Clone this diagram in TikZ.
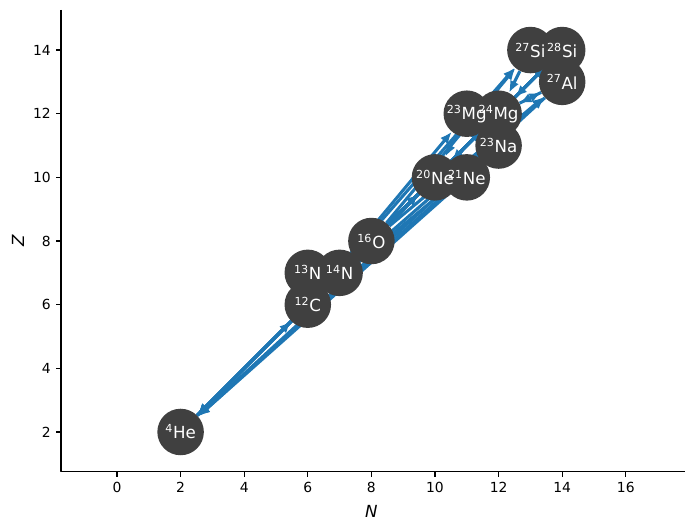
\documentclass[tikz,border=0pt]{standalone}
\usepackage{fontspec}
\setmainfont{DejaVu Sans}
\usetikzlibrary{arrows.meta,backgrounds}
\definecolor{rateblue}{HTML}{1F77B4}
\definecolor{nucgray}{HTML}{404040}
\tikzset{
  nuc/.style={circle,fill=nucgray,minimum size=33.5pt,inner sep=0pt},
  nuclbl/.style={text=white,inner sep=0pt,font=\fontsize{12}{14}\selectfont},
  rate/.style={draw=rateblue,line width=2.2pt,-{Latex[length=8.5pt,width=7pt]}},
  ticklbl/.style={inner sep=0pt,font=\fontsize{10}{12}\selectfont},
  axlbl/.style={inner sep=0pt,font=\fontsize{12}{14}\selectfont\itshape},
}
\begin{document}
\begin{tikzpicture}[x=22.9pt,y=22.92pt,line join=round]
  \useasboundingbox (-3.679,-1.046) rectangle (18.019,15.573);
  % axes
  \draw[line width=0.8pt] (-1.76,15.26) -- (-1.76,0.745) -- (17.85,0.745);
  \foreach \n in {0,2,...,16} {
      \draw[line width=0.8pt] (\n,0.745) -- ++(0,-3.5pt)
        node[ticklbl,below=3.5pt] (xt\n) {\n};
    }
  \foreach \z in {2,4,...,14} {
      \draw[line width=0.8pt] (-1.76,\z) -- ++(-3.5pt,0)
        node[ticklbl,left=3.5pt] (yt\z) {\z};
    }
  \node[axlbl] (xlabel) at (8,-0.48) {N};
  \node[axlbl,rotate=90] (ylabel) at (-3.11,8) {Z};

  % nuclei
  \foreach \name/\n/\z in {he4/2/2, c12/6/6, n13/6/7, n14/7/7, o16/8/8,
      ne20/10/10, ne21/11/10, na23/12/11, mg23/11/12, mg24/12/12,
      al27/14/13, si27/13/14, si28/14/14} {
      \node[nuc] (\name) at (\n,\z) {};
    }
  \foreach \name/\a/\el in {he4/4/He, c12/12/C, n13/13/N, n14/14/N, o16/16/O,
      ne20/20/Ne, ne21/21/Ne, na23/23/Na, mg23/23/Mg, mg24/24/Mg,
      al27/27/Al, si27/27/Si, si28/28/Si} {
      \node[nuclbl] (\name-lbl) at (\name) {\textsuperscript{\a}\el};
    }

  % rates
  \begin{pgfonlayer}{background}
    \foreach \a/\b in {he4/c12, c12/he4, he4/o16, c12/o16, o16/he4, o16/c12,
        he4/ne20, o16/ne20, ne20/he4, ne20/o16, he4/mg24, ne20/mg24,
        mg24/he4, mg24/ne20, he4/si28, mg24/si28, si28/he4, si28/mg24,
        c12/ne20, c12/na23, c12/mg23, c12/mg24, o16/mg24, c12/al27,
        o16/al27, c12/si27, o16/si27, c12/si28, o16/si28,
        na23/ne20, na23/he4, na23/mg24, mg24/na23, ne20/na23,
        al27/mg24, al27/he4, al27/si28, si28/al27, mg24/al27,
        mg23/na23, mg23/ne20, si27/al27, si27/mg24,
        c12/n13, n13/n14, n14/o16, ne20/ne21, ne21/mg24, ne21/he4} {
        \draw[rate] (\a) -- (\b);
      }
  \end{pgfonlayer}
\end{tikzpicture}
\end{document}
